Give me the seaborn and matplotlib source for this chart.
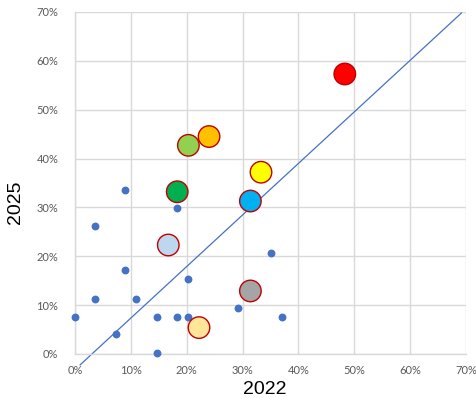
import matplotlib
matplotlib.use("Agg")
import matplotlib.pyplot as plt
from matplotlib.ticker import FuncFormatter
import numpy as np
import pandas as pd
import seaborn as sns

# Small markers: share in 2022 vs 2025
small_2022 = [0.0, 3.6, 3.6, 7.4, 9.0, 9.0, 10.9, 14.7, 14.7, 18.2, 18.2, 20.2, 20.2, 29.2, 35.1, 37.0]
small_2025 = [7.6, 26.2, 11.2, 4.0, 17.1, 33.5, 11.2, 7.6, 0.3, 29.9, 7.6, 7.6, 15.3, 9.5, 20.7, 7.6]

# Highlighted markers
big_names = ["A", "B", "C", "D", "E", "F", "G", "H", "I"]
big_2022 = [48.3, 24.0, 20.3, 18.3, 33.3, 31.4, 16.7, 22.2, 31.4]
big_2025 = [57.3, 44.5, 42.7, 33.2, 37.2, 31.3, 22.3, 5.4, 12.9]
big_colors = ["#FF0000", "#FFC000", "#92D050", "#00B050", "#FFFF00",
              "#00B0F0", "#BDD7EE", "#FFE699", "#A5A5A5"]

# Linear trend line
trend_x = [0.9, 69.2]
trend_slope = 1.055
trend_intercept = -3.2

sns.set_style("white")
plt.rcParams["font.family"] = ["Liberation Sans", "DejaVu Sans"]

fig = plt.figure(figsize=(4.77, 3.98), dpi=100)
ax = fig.add_axes([0.1572, 0.1106, 0.8198, 0.8594])

small = pd.DataFrame({"x": small_2022, "y": small_2025})
big = pd.DataFrame({"x": big_2022, "y": big_2025, "name": big_names})

tx = np.array(trend_x)
sns.lineplot(x=tx, y=trend_slope * tx + trend_intercept, ax=ax,
             color="#4472C4", linewidth=0.9, clip_on=False, zorder=2)

sns.scatterplot(data=small, x="x", y="y", ax=ax, color="#4472C4",
                s=32, linewidth=0, clip_on=False, zorder=3)
sns.scatterplot(data=big, x="x", y="y", hue="name", palette=big_colors,
                ax=ax, s=240, edgecolor="#C00000", linewidth=1.0,
                legend=False, clip_on=False, zorder=4)

ax.set_xlim(0, 70)
ax.set_ylim(0, 70)
ticks = np.arange(0, 71, 10)
ax.set_xticks(ticks)
ax.set_yticks(ticks)
fmt = FuncFormatter(lambda v, p: f"{int(v)}%")
ax.xaxis.set_major_formatter(fmt)
ax.yaxis.set_major_formatter(fmt)
ax.grid(True, color="#D9D9D9", linewidth=1.0)
ax.set_axisbelow(True)
for side in ["top", "right"]:
    ax.spines[side].set_visible(False)
for side in ["left", "bottom"]:
    ax.spines[side].set_color("#D9D9D9")
    ax.spines[side].set_linewidth(1.0)
ax.tick_params(axis="both", length=0, labelsize=8, labelcolor="#595959")
ax.tick_params(axis="y", pad=12)
ax.tick_params(axis="x", pad=8)
for lab in ax.get_xticklabels() + ax.get_yticklabels():
    lab.set_family(["Lato", "DejaVu Sans"])

ax.set_xlabel("2022", fontsize=14, color="black")
ax.set_ylabel("2025", fontsize=14, color="black")
ax.xaxis.set_label_coords(0.485, -0.08)
ax.yaxis.set_label_coords(-0.13, 0.444)

fig.savefig("out.png", dpi=100)
